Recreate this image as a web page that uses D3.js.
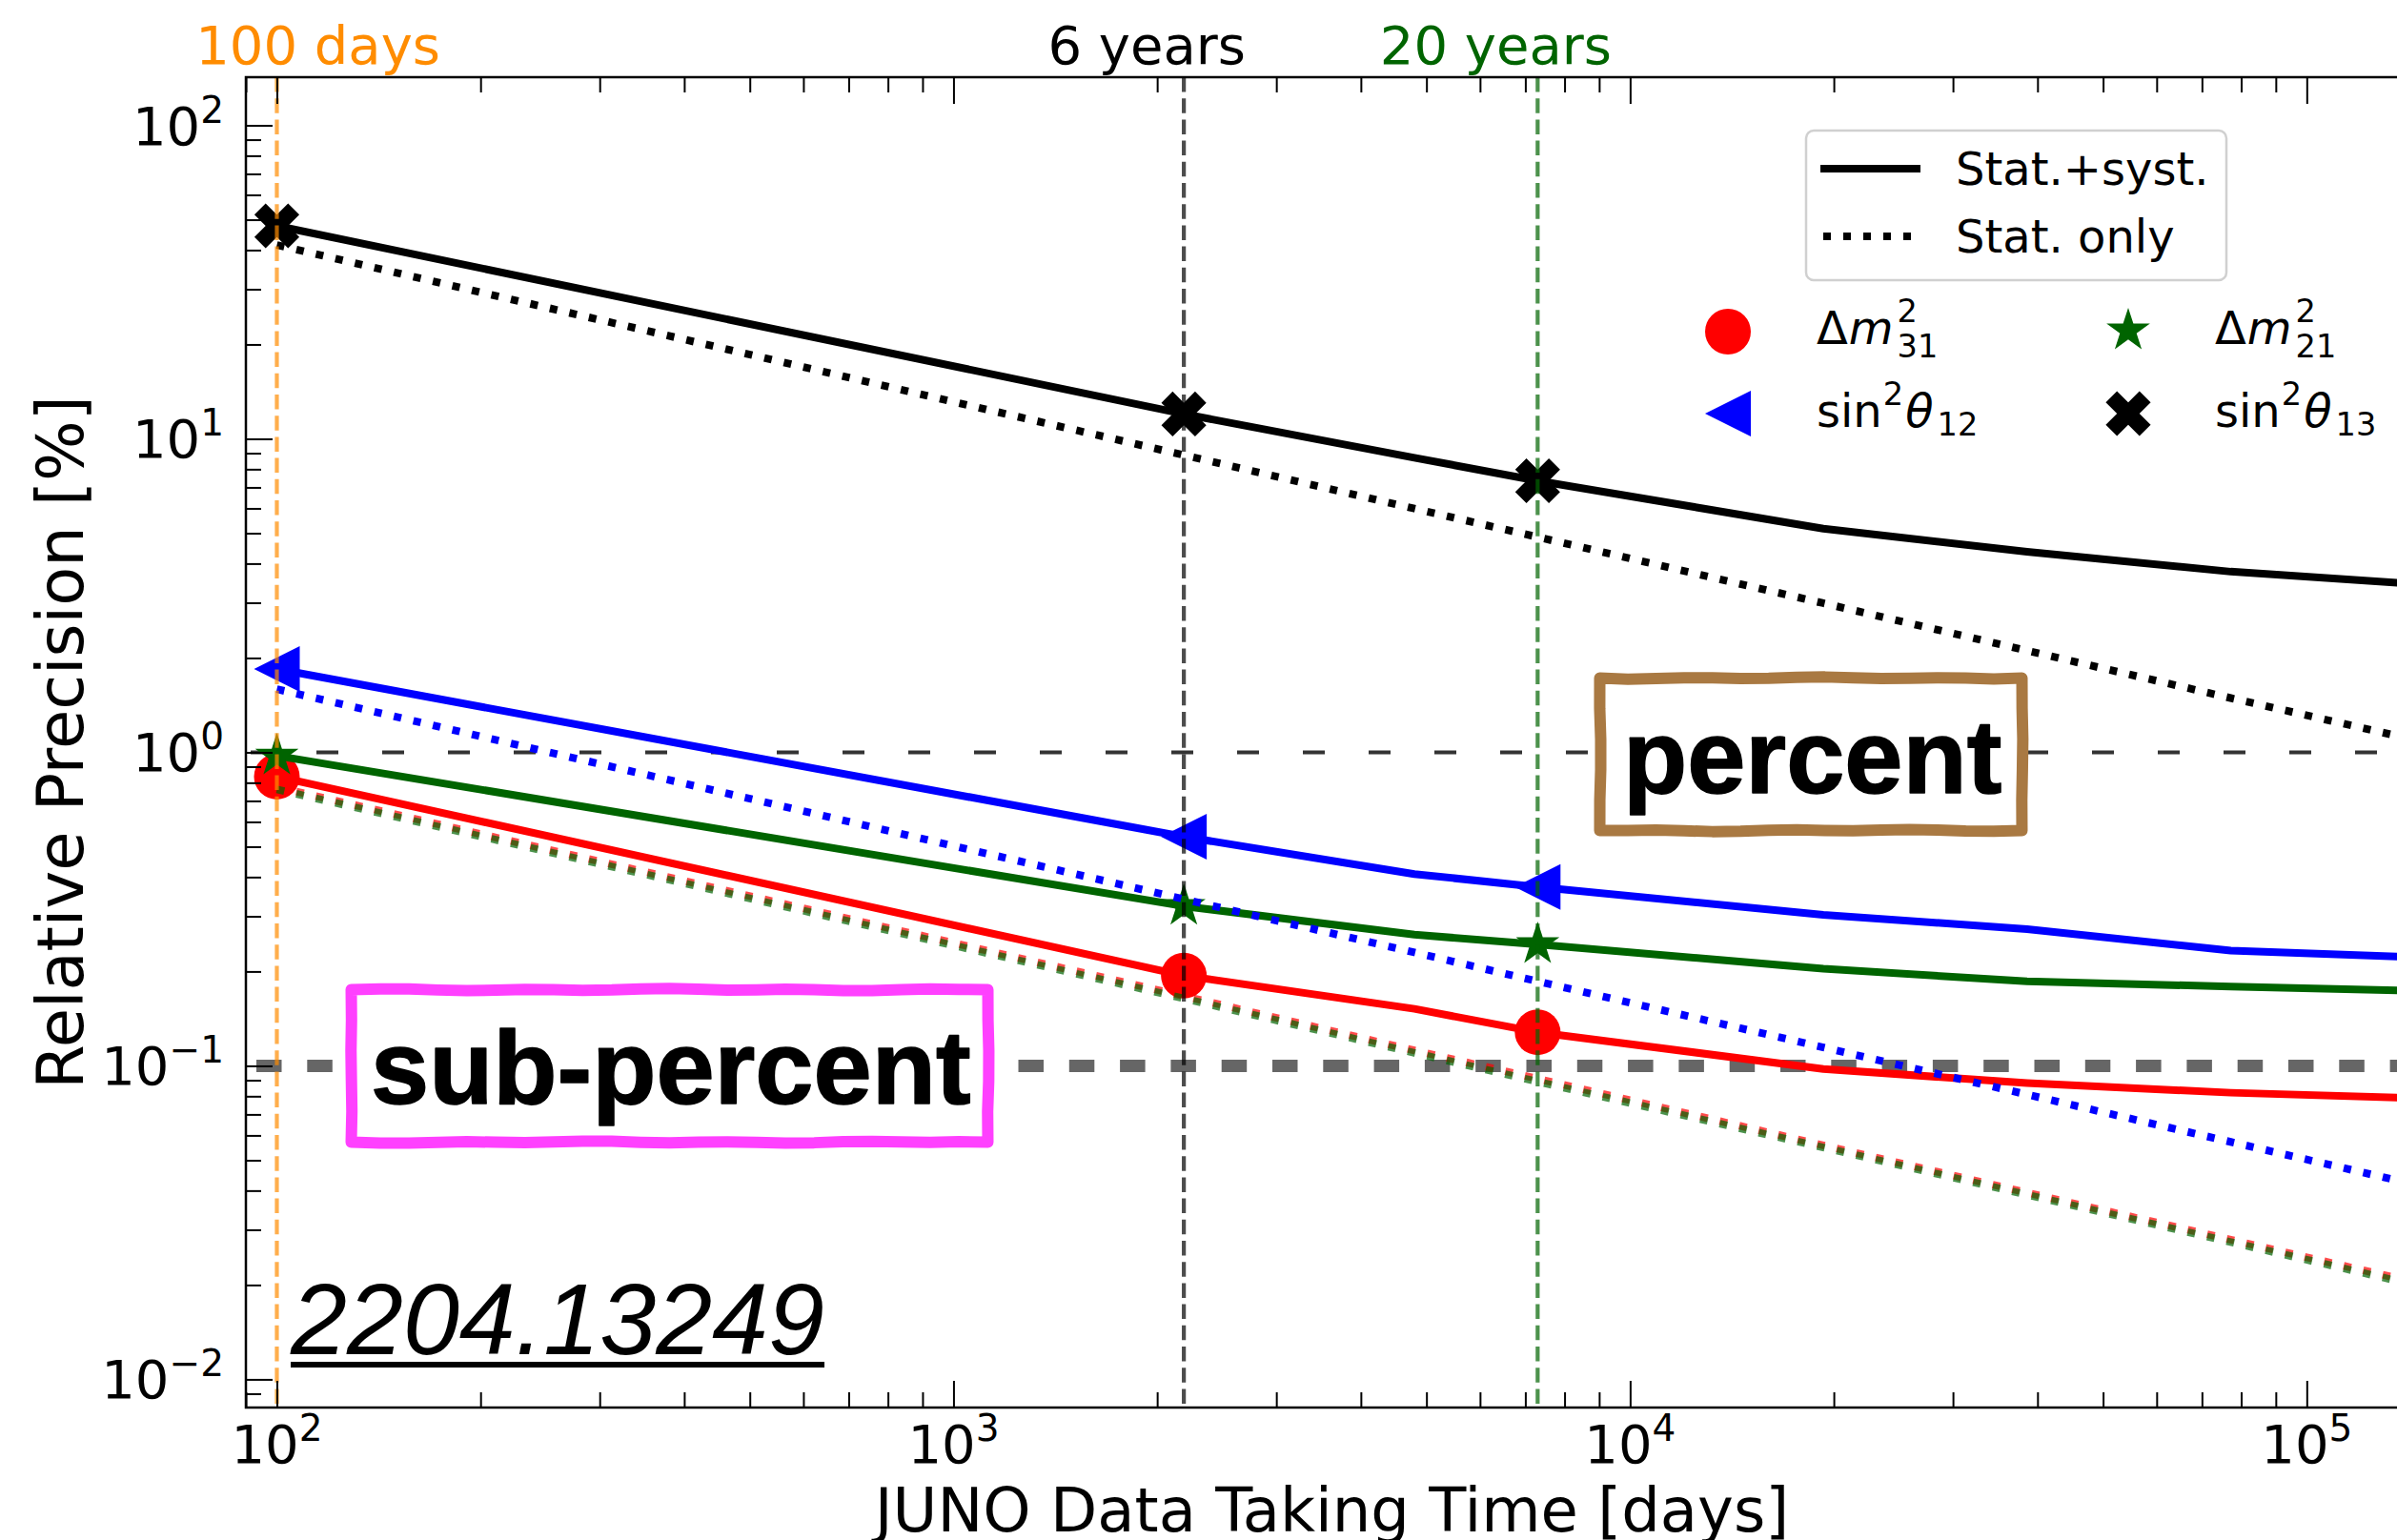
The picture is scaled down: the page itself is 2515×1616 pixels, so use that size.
<!DOCTYPE html>
<html>
<head>
<meta charset="utf-8">
<script src="https://cdn.jsdelivr.net/npm/d3@7.9.0/dist/d3.min.js"></script>
<style>
  html, body { margin: 0; padding: 0; background: #fff; }
  svg { display: block; }
  text { font-family: "DejaVu Sans", sans-serif; fill: #000; }
</style>
</head>
<body>
<svg id="chart" width="2515" height="1616"></svg>
<script>
// data taking time [days] where the curves have their vertices
const days = [100, 2190, 4800, 7300, 19300, 38600, 77200, 146000];
// relative precision [%]
const dm31Syst = [0.837, 0.194, 0.152, 0.128, 0.0977, 0.0881, 0.0821, 0.0788];
const dm31Stat = [0.775, 0.167, 0.112, 0.091, 0.0558, 0.0394, 0.0279, 0.0203];
const dm21Syst = [0.975, 0.323, 0.262, 0.244, 0.204, 0.186, 0.179, 0.1735];
const dm21Stat = [0.762, 0.164, 0.110, 0.089, 0.0549, 0.0388, 0.0274, 0.0199];
const s12Syst = [1.845, 0.538, 0.409, 0.372, 0.303, 0.273, 0.233, 0.222];
const s12Stat = [1.59, 0.340, 0.230, 0.186, 0.1145, 0.081, 0.0572, 0.0416];
const s13Syst = [47.8, 12.0, 8.7, 7.35, 5.17, 4.36, 3.77, 3.44];
const s13Stat = [41.5, 8.87, 5.99, 4.86, 2.99, 2.11, 1.49, 1.09];

const markerDays = [100, 2190, 7300];
const milestoneDays = [100, 2190, 7300];
const milestoneLabels = ['100 days', '6 years', '20 years'];
const milestoneLabelAt = [115, 1930, 6330];
const xTickExps = [2, 3, 4, 5];
const yTickExps = [-2, -1, 0, 1, 2];
const xLimits = [90, 146000];
const yLimits = [0.00813, 142.4];

const series = [
  { name: 's13', syst: s13Syst, stat: s13Stat, color: '#000000', marker: 'x' },
  { name: 'dm31', syst: dm31Syst, stat: dm31Stat, color: '#ff0000', marker: 'circle' },
  { name: 'dm21', syst: dm21Syst, stat: dm21Stat, color: '#006400', marker: 'star' },
  { name: 's12', syst: s12Syst, stat: s12Stat, color: '#0000ff', marker: 'triangle' },
];

const svg = d3.select('#chart');
const plot = { left: 258, right: 2537, top: 81, bottom: 1477 };

const x = d3.scaleLog().domain(xLimits).range([plot.left, plot.right]);
const y = d3.scaleLog().domain(yLimits).range([plot.bottom, plot.top]);

svg.append('defs').append('clipPath').attr('id', 'clip')
  .append('rect')
  .attr('x', plot.left).attr('y', plot.top)
  .attr('width', plot.right - plot.left).attr('height', plot.bottom - plot.top);

const body = svg.append('g').attr('clip-path', 'url(#clip)');

// horizontal reference lines
body.append('line')
  .attr('x1', plot.left).attr('x2', plot.right)
  .attr('y1', y(1)).attr('y2', y(1))
  .attr('stroke', '#333').attr('stroke-width', 4)
  .attr('stroke-dasharray', '23,46').attr('stroke-dashoffset', -5);
body.append('line')
  .attr('x1', plot.left).attr('x2', plot.right)
  .attr('y1', y(0.1)).attr('y2', y(0.1))
  .attr('stroke', '#666').attr('stroke-width', 13)
  .attr('stroke-dasharray', '26.5,26.8').attr('stroke-dashoffset', 42.3);

// marker shapes
function markerPath(kind) {
  const r = 24;
  if (kind === 'triangle') return `M${-r},0L${r},${-r}L${r},${r}Z`;
  if (kind === 'star') {
    const pts = [];
    for (let i = 0; i < 10; i++) {
      const rr = i % 2 === 0 ? r : r * 0.381966;
      const a = -Math.PI / 2 + i * Math.PI / 5;
      pts.push([rr * Math.cos(a), rr * Math.sin(a)]);
    }
    return 'M' + pts.map((p) => p.join(',')).join('L') + 'Z';
  }
  if (kind === 'x') {
    const s = 50 / 6;
    const plus = [[-1, -3], [1, -3], [1, -1], [3, -1], [3, 1], [1, 1], [1, 3], [-1, 3], [-1, 1], [-3, 1], [-3, -1], [-1, -1]];
    const c = Math.SQRT1_2;
    const pts = plus.map(([px, py]) => [(px * c - py * c) * s, (px * c + py * c) * s]);
    return 'M' + pts.map((p) => p.join(',')).join('L') + 'Z';
  }
  return d3.symbol(d3.symbolCircle, Math.PI * r * r)();
}

const line = d3.line().x((d) => x(d[0])).y((d) => y(d[1]));

series.forEach((s) => {
  const g = body.append('g');
  g.append('path')
    .attr('d', line(days.map((t, i) => [t, s.syst[i]])))
    .attr('fill', 'none').attr('stroke', s.color).attr('stroke-width', 8)
    .attr('stroke-linejoin', 'round');
  g.append('path')
    .attr('d', line(days.map((t, i) => [t, s.stat[i]])))
    .attr('fill', 'none').attr('stroke', s.color).attr('stroke-width', 8)
    .attr('stroke-opacity', s.name === 's13' || s.name === 's12' ? 1 : 0.7)
    .attr('stroke-dasharray', '8,13');
  markerDays.forEach((t) => {
    const i = days.indexOf(t);
    g.append('path')
      .attr('d', markerPath(s.marker))
      .attr('transform', `translate(${x(t)},${y(s.syst[i])})`)
      .attr('fill', s.color);
  });
});

// milestone vertical lines
const milestoneColors = ['#ff8c00', '#000000', '#006400'];
milestoneDays.forEach((t, i) => {
  body.append('line')
    .attr('x1', x(t)).attr('x2', x(t))
    .attr('y1', plot.top).attr('y2', plot.bottom)
    .attr('stroke', milestoneColors[i]).attr('stroke-opacity', 0.7)
    .attr('stroke-width', 4.2).attr('stroke-dasharray', '15.5,6.7');
  svg.append('text')
    .attr('x', x(milestoneLabelAt[i])).attr('y', 67)
    .attr('text-anchor', 'middle').attr('font-size', 56)
    .style('fill', milestoneColors[i])
    .text(milestoneLabels[i]);
});

// hand-drawn looking boxes
function sketchPath(x0, y0, x1, y1, phase) {
  const pts = [];
  const corners = [[x0, y0], [x1, y0], [x1, y1], [x0, y1]];
  let k = 0;
  for (let c = 0; c < 4; c++) {
    const [ax, ay] = corners[c];
    const [bx, by] = corners[(c + 1) % 4];
    const len = Math.hypot(bx - ax, by - ay);
    const n = Math.max(2, Math.round(len / 30));
    const nx = -(by - ay) / len, ny = (bx - ax) / len;
    for (let i = 0; i < n; i++) {
      const t = i / n;
      const w = i === 0 ? 0 : 0.7 * Math.sin(k * 1.37 + phase) + 0.5 * Math.sin(k * 0.53 + 2 * phase);
      pts.push([ax + (bx - ax) * t + nx * w, ay + (by - ay) * t + ny * w]);
      k++;
    }
  }
  return d3.line().curve(d3.curveLinearClosed)(pts);
}

const boxes = [
  { text: 'percent', x0: 1678.5, y0: 711.5, x1: 2121.5, y1: 871.5, tx: 1703, ty: 832, color: '#a97942' },
  { text: 'sub-percent', x0: 368.5, y0: 1038.5, x1: 1036.5, y1: 1198.5, tx: 389, ty: 1158, color: '#ff40ff' },
];
boxes.forEach((b, i) => {
  svg.append('path')
    .attr('d', sketchPath(b.x0, b.y0, b.x1, b.y1, i * 2.1 + 0.4))
    .attr('fill', '#fff').attr('stroke', b.color).attr('stroke-width', 12)
    .attr('stroke-linejoin', 'round');
  svg.append('text')
    .attr('x', b.tx).attr('y', b.ty)
    .attr('font-size', 110).attr('font-weight', 'bold')
    .style('font-family', '"Liberation Sans", Arial, sans-serif')
    .style('stroke', '#000').style('stroke-width', 1.5).style('stroke-linejoin', 'round')
    .text(b.text);
});

// arXiv reference
const ref = svg.append('text')
  .attr('x', 305).attr('y', 1421)
  .attr('font-size', 106).attr('font-style', 'italic')
  .style('font-family', '"Liberation Sans", Arial, sans-serif')
  .text('2204.13249');
const refW = ref.node().getComputedTextLength();
svg.append('rect').attr('x', 305).attr('y', 1429).attr('width', refW).attr('height', 6).attr('fill', '#000');

// axes: spines and inward ticks
function minorTicks(lo, hi) {
  const out = [];
  for (let e = Math.floor(Math.log10(lo)); e <= Math.ceil(Math.log10(hi)); e++) {
    for (let m = 2; m <= 9; m++) {
      const v = m * Math.pow(10, e);
      if (v >= lo && v <= hi) out.push(v);
    }
  }
  return out;
}
const xMajor = xTickExps.map((e) => Math.pow(10, e));
const yMajor = yTickExps.map((e) => Math.pow(10, e));
const xMinor = minorTicks(xLimits[0], xLimits[1]);
const yMinor = minorTicks(yLimits[0], yLimits[1]);

function drawTicks(axisFn, scale, pos, values, size) {
  const g = svg.append('g')
    .attr('transform', pos)
    .call(axisFn(scale).tickValues(values).tickSize(-size).tickSizeOuter(0).tickFormat(''));
  g.select('.domain').remove();
  g.selectAll('.tick line').attr('stroke', '#000').attr('stroke-width', 2);
}
drawTicks(d3.axisBottom, x, `translate(0,${plot.bottom})`, xMinor, 16);
drawTicks(d3.axisBottom, x, `translate(0,${plot.bottom})`, xMajor, 28);
drawTicks(d3.axisTop, x, `translate(0,${plot.top})`, xMinor, 16);
drawTicks(d3.axisTop, x, `translate(0,${plot.top})`, xMajor, 28);
drawTicks(d3.axisLeft, y, `translate(${plot.left},0)`, yMinor, 16);
drawTicks(d3.axisLeft, y, `translate(${plot.left},0)`, yMajor, 28);

svg.append('rect')
  .attr('x', plot.left).attr('y', plot.top)
  .attr('width', plot.right - plot.left).attr('height', plot.bottom - plot.top)
  .attr('fill', 'none').attr('stroke', '#000').attr('stroke-width', 2.5);

function powLabel(sel, e) {
  sel.text('10');
  sel.append('tspan').attr('dy', -23).attr('font-size', 39).text(e < 0 ? '\u2212' + (-e) : String(e));
}
xTickExps.forEach((e) => {
  svg.append('text')
    .attr('x', x(Math.pow(10, e))).attr('y', 1535)
    .attr('text-anchor', 'middle').attr('font-size', 56)
    .call(powLabel, e);
});
yTickExps.forEach((e) => {
  svg.append('text')
    .attr('x', 235).attr('y', y(Math.pow(10, e)) + 20)
    .attr('text-anchor', 'end').attr('font-size', 56)
    .call(powLabel, e);
});

// axis titles
svg.append('text')
  .attr('x', (plot.left + plot.right) / 2).attr('y', 1607)
  .attr('text-anchor', 'middle').attr('font-size', 64)
  .text('JUNO Data Taking Time [days]');
svg.append('text')
  .attr('transform', `translate(87,${(plot.top + plot.bottom) / 2}) rotate(-90)`)
  .attr('text-anchor', 'middle').attr('font-size', 67)
  .text('Relative Precision [%]');

// legend: line styles
const leg = svg.append('g');
leg.append('rect')
  .attr('x', 1895).attr('y', 137).attr('width', 441).attr('height', 157)
  .attr('rx', 8).attr('fill', '#fff').attr('fill-opacity', 0.8)
  .attr('stroke', '#d0d0d0').attr('stroke-width', 2.5);
leg.append('line').attr('x1', 1910).attr('x2', 2015).attr('y1', 177).attr('y2', 177)
  .attr('stroke', '#000').attr('stroke-width', 8);
leg.append('line').attr('x1', 1913).attr('x2', 2005).attr('y1', 248).attr('y2', 248)
  .attr('stroke', '#000').attr('stroke-width', 8).attr('stroke-dasharray', '8,13');
leg.append('text').attr('x', 2052).attr('y', 194).attr('font-size', 48).text('Stat.+syst.');
leg.append('text').attr('x', 2052).attr('y', 265).attr('font-size', 48).text('Stat. only');

// legend: parameters
function mathText(g, x0, yb, parts, size) {
  let cx = x0;
  parts.forEach((p) => {
    if (p.sup !== undefined || p.sub !== undefined) {
      let w = 0;
      if (p.sup !== undefined) {
        const t = g.append('text').attr('x', cx).attr('y', yb - 23).attr('font-size', size * 0.7).text(p.sup);
        w = Math.max(w, t.node().getComputedTextLength());
      }
      if (p.sub !== undefined) {
        const t = g.append('text').attr('x', cx).attr('y', yb + (p.sup !== undefined ? 14 : 9)).attr('font-size', size * 0.7).text(p.sub);
        w = Math.max(w, t.node().getComputedTextLength());
      }
      cx += w + 2;
    } else {
      const t = g.append('text').attr('x', cx).attr('y', yb).attr('font-size', size)
        .attr('font-style', p.italic ? 'italic' : null).text(p.t);
      cx += t.node().getComputedTextLength() + (p.italic ? 4 : 1);
    }
  });
}

const paramLegend = [
  { marker: 'circle', color: '#ff0000', mx: 1813, my: 348, tx: 1906, ty: 361,
    parts: [{ t: '\u0394' }, { t: 'm', italic: true }, { sup: '2', sub: '31' }] },
  { marker: 'triangle', color: '#0000ff', mx: 1813, my: 434, tx: 1906, ty: 448,
    parts: [{ t: 'sin' }, { sup: '2' }, { t: '\u03b8', italic: true }, { sub: '12' }] },
  { marker: 'star', color: '#006400', mx: 2233, my: 347, tx: 2324, ty: 361,
    parts: [{ t: '\u0394' }, { t: 'm', italic: true }, { sup: '2', sub: '21' }] },
  { marker: 'x', color: '#000000', mx: 2233, my: 434, tx: 2324, ty: 448,
    parts: [{ t: 'sin' }, { sup: '2' }, { t: '\u03b8', italic: true }, { sub: '13' }] },
];
const leg2 = svg.append('g');
paramLegend.forEach((d) => {
  leg2.append('path').attr('d', markerPath(d.marker))
    .attr('transform', `translate(${d.mx},${d.my})`).attr('fill', d.color);
  mathText(leg2, d.tx, d.ty, d.parts, 48);
});
</script>
</body>
</html>
